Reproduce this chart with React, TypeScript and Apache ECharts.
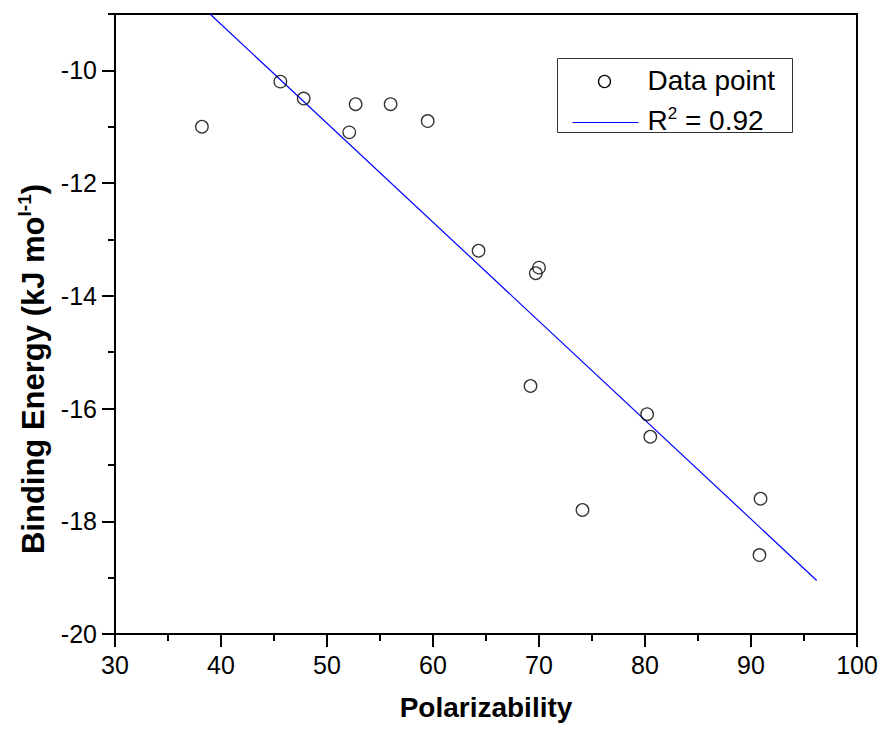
import React, { useEffect, useRef } from 'react';
import * as echarts from 'echarts';

const polarizability = [38.2, 45.6, 47.8, 52.1, 52.7, 56.0, 59.5, 64.3, 69.2, 69.7, 70.0, 74.1, 80.2, 80.5, 90.8, 90.9];
const bindingEnergy = [-11.0, -10.2, -10.5, -11.1, -10.6, -10.6, -10.9, -13.2, -15.6, -13.6, -13.5, -17.8, -16.1, -16.5, -18.6, -17.6];
const fitX = [38.96, 96.2];
const fitY = [-9.0, -19.05];
const yMajorTicks = [-20, -18, -16, -14, -12, -10];
const yMinorTicks = [-19, -17, -15, -13, -11, -9];
const legendLabels = ['Data point', 'R', '2', ' = 0.92'];

const FONT = '"Liberation Sans", Arial, Helvetica, sans-serif';

export default function App() {
  const ref = useRef<HTMLDivElement>(null);
  useEffect(() => {
    const chart = echarts.init(ref.current!, null, { renderer: 'svg' });
    const scatterData = polarizability.map((x, i) => [x, bindingEnergy[i]]);
    const fitData = fitX.map((x, i) => [x, fitY[i]]);
    chart.setOption({
      animation: false,
      backgroundColor: '#fff',
      textStyle: { fontFamily: FONT },
      grid: {
        left: 115, right: 25, top: 14, bottom: 96,
        show: true, borderColor: '#000', borderWidth: 2, backgroundColor: 'transparent',
      },
      xAxis: {
        type: 'value', min: 30, max: 100, interval: 10,
        name: 'Polarizability', nameLocation: 'middle', nameGap: 59,
        nameTextStyle: { fontFamily: FONT, fontSize: 28, fontWeight: 'bold', color: '#000' },
        axisLine: { show: true, lineStyle: { color: '#000', width: 2 } },
        axisTick: { show: true, length: 13, lineStyle: { color: '#000', width: 2 } },
        minorTick: { show: true, splitNumber: 2, length: 7, lineStyle: { color: '#000', width: 2 } },
        axisLabel: { fontFamily: FONT, fontSize: 25, color: '#000', margin: 18 },
        splitLine: { show: false },
      },
      yAxis: [
        {
          type: 'value', min: -20, max: -9, interval: 2,
          name: '{t|Binding Energy (kJ mo}{s|l-1}{t|)}', nameLocation: 'middle', nameGap: 64, nameRotate: 90,
          nameTextStyle: {
            fontFamily: FONT, color: '#000', padding: [0, 90, 0, 0],
            rich: {
              t: { fontFamily: FONT, fontSize: 31, fontWeight: 'bold', color: '#000', lineHeight: 36 },
              s: { fontFamily: FONT, fontSize: 19, fontWeight: 'bold', color: '#000', lineHeight: 19, verticalAlign: 'top' },
            },
          },
          axisLine: { show: true, lineStyle: { color: '#000', width: 2 } },
          axisTick: { show: true, length: 13, customValues: yMajorTicks, lineStyle: { color: '#000', width: 2 } },
          axisLabel: { fontFamily: FONT, fontSize: 25, color: '#000', margin: 18, customValues: yMajorTicks },
          splitLine: { show: false },
        },
        {
          type: 'value', min: -20, max: -9, interval: 1, position: 'left',
          axisLine: { show: false },
          axisTick: { show: true, length: 7, customValues: yMinorTicks, lineStyle: { color: '#000', width: 2 } },
          axisLabel: { show: false },
          splitLine: { show: false },
        },
      ],
      series: [
        {
          type: 'scatter', name: legendLabels[0], data: scatterData, yAxisIndex: 0,
          symbol: 'circle', symbolSize: 12.5,
          itemStyle: { color: 'rgba(255,255,255,0)', borderColor: '#000', borderWidth: 1.3 },
          z: 3,
        },
        {
          type: 'line', name: 'fit', data: fitData, yAxisIndex: 0,
          showSymbol: false, symbol: 'none', clip: true,
          lineStyle: { color: '#0000ff', width: 1.2 },
          z: 2,
        },
      ],
      graphic: [
        {
          type: 'group', left: 557, top: 58, z: 100,
          children: [
            { type: 'rect', shape: { x: 0, y: 0, width: 235, height: 74 }, style: { fill: '#fff', stroke: '#333', lineWidth: 1 } },
            { type: 'circle', shape: { cx: 47, cy: 23, r: 6 }, style: { fill: 'none', stroke: '#000', lineWidth: 1.3 } },
            { type: 'text', x: 90, y: 22, style: { text: legendLabels[0], fontFamily: FONT, fontSize: 28, fill: '#000', verticalAlign: 'middle' } },
            { type: 'line', shape: { x1: 15, y1: 64, x2: 81, y2: 64 }, style: { stroke: '#0000ff', lineWidth: 1.2 } },
            {
              type: 'text', x: 90, y: 62,
              style: {
                text: '{n|' + legendLabels[1] + '}{s|' + legendLabels[2] + '}{n|' + legendLabels[3] + '}',
                verticalAlign: 'middle', fill: '#000',
                rich: {
                  n: { fontFamily: FONT, fontSize: 28, lineHeight: 32, fill: '#000' },
                  s: { fontFamily: FONT, fontSize: 17, lineHeight: 17, verticalAlign: 'top', fill: '#000' },
                },
              },
            },
          ],
        },
      ],
    });
    return () => chart.dispose();
  }, []);
  return <div ref={ref} style={{ position: 'fixed', left: 0, top: 0, width: 882, height: 730, background: '#fff' }} />;
}
